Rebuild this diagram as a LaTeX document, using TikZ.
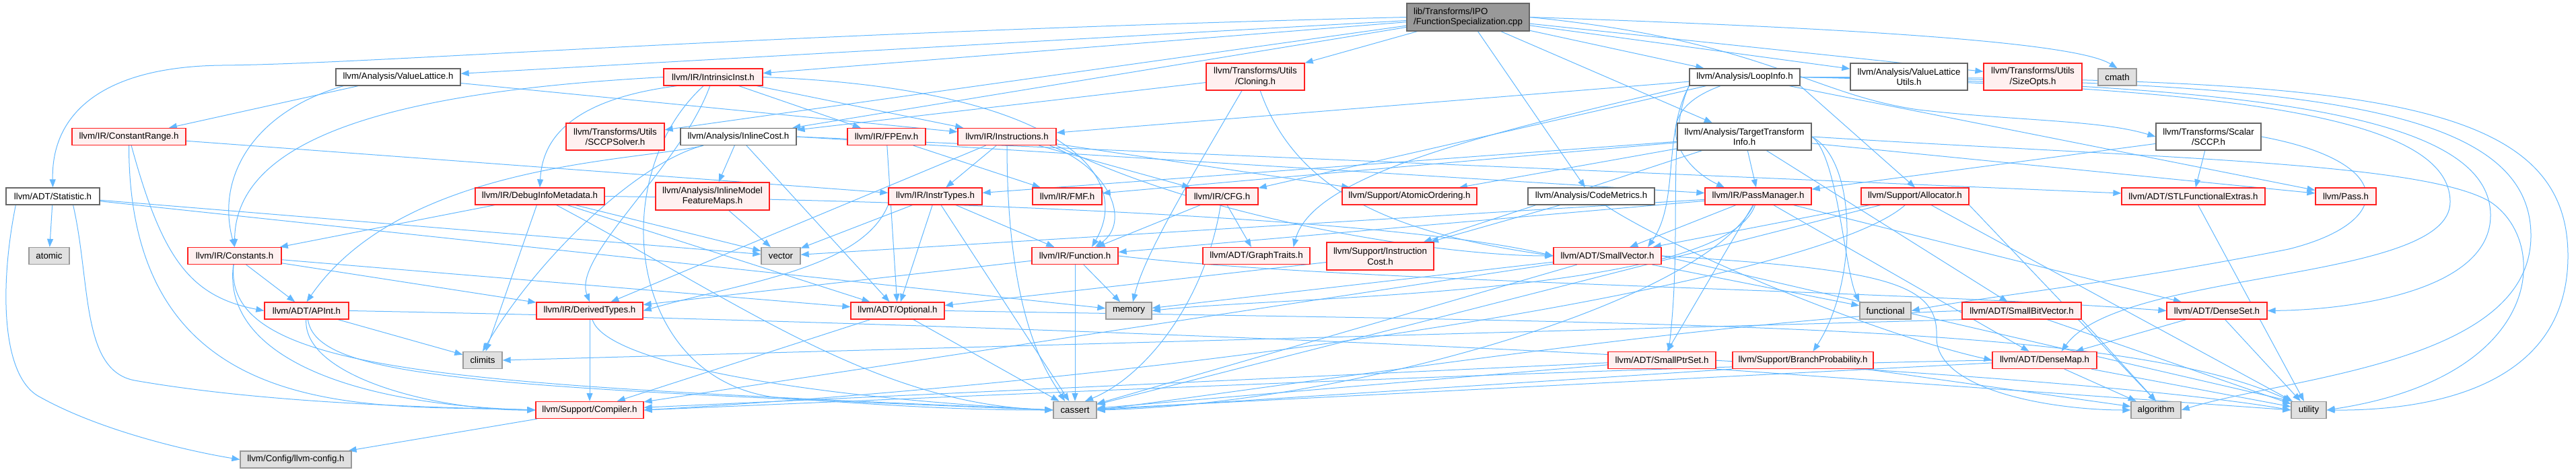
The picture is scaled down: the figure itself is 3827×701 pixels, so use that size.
\documentclass[tikz,border=0pt]{standalone}
\usepackage{fontspec}
\setmainfont{Liberation Sans}
\usetikzlibrary{arrows.meta}
\definecolor{edgec}{HTML}{63B8FF}
\definecolor{redb}{HTML}{FF2020}
\definecolor{redf}{HTML}{FFF0F0}
\definecolor{grayf}{HTML}{E0E0E0}
\definecolor{grayb}{HTML}{999999}
\definecolor{darkb}{HTML}{666666}
\definecolor{rootf}{HTML}{999999}
\pgfdeclarelayer{bg}
\pgfsetlayers{bg,main}
\begin{document}
\begin{tikzpicture}[x=1pt,y=-1pt,
  box/.style={draw, line width=1.3pt, inner sep=0pt, align=center, text=black,
    font=\fontsize{13.3}{15.5}\selectfont},
  rd/.style={box, draw=redb, fill=redf},
  gy/.style={box, draw=grayb, fill=grayf},
  wt/.style={box, draw=darkb, fill=white},
  rt/.style={box, draw=darkb, fill=rootf, align=left},
  s1/.style={minimum height=25pt},
  s2/.style={minimum height=40pt},
  e/.style={draw=edgec, line width=1pt, -{Triangle[length=12pt,width=9pt]}},
]
\useasboundingbox (0,0) rectangle (3827,701);

% row 1
\node[rt, minimum width=182pt, minimum height=41pt] (cpp) at (2181,25.5) {lib/Transforms/IPO\\/FunctionSpecialization.cpp};
% row 2
\node[wt, s1, minimum width=185pt] (VL) at (591.5,114.5) {llvm/Analysis/ValueLattice.h};
\node[rd, s1, minimum width=147pt] (II) at (1059.5,114.5) {llvm/IR/IntrinsicInst.h};
\node[rd, s2, minimum width=146pt] (CL) at (1865,114) {llvm/Transforms/Utils\\/Cloning.h};
\node[wt, s1, minimum width=164pt] (LI) at (2592,114.5) {llvm/Analysis/LoopInfo.h};
\node[wt, s2, minimum width=174pt] (VLU) at (2836,114) {llvm/Analysis/ValueLattice\\Utils.h};
\node[rd, s2, minimum width=146pt] (SO) at (3020,114) {llvm/Transforms/Utils\\/SizeOpts.h};
\node[gy, s1, minimum width=57pt] (CM) at (3145.5,114.5) {cmath};
% row 3
\node[rd, s1, minimum width=169pt] (CR) at (191.5,203) {llvm/IR/ConstantRange.h};
\node[rd, s2, minimum width=146pt] (SS) at (914,203) {llvm/Transforms/Utils\\/SCCPSolver.h};
\node[wt, s1, minimum width=172pt] (IC) at (1097,203) {llvm/Analysis/InlineCost.h};
\node[rd, s1, minimum width=116pt] (FP) at (1317,203) {llvm/IR/FPEnv.h};
\node[rd, s1, minimum width=146pt] (INS) at (1496,203) {llvm/IR/Instructions.h};
\node[wt, s2, minimum width=199pt] (TTI) at (2591.5,203) {llvm/Analysis/TargetTransform\\Info.h};
\node[wt, s2, minimum width=156pt] (SC) at (3281,203) {llvm/Transforms/Scalar\\/SCCP.h};
% row 4
\node[wt, s1, minimum width=139pt] (ST) at (78.5,291.5) {llvm/ADT/Statistic.h};
\node[rd, s1, minimum width=192pt] (DIM) at (802,291.5) {llvm/IR/DebugInfoMetadata.h};
\node[rd, minimum height=41pt, minimum width=169pt] (IMF) at (1058.5,291.5) {llvm/Analysis/InlineModel\\FeatureMaps.h};
\node[rd, s1, minimum width=139pt] (IT) at (1389.5,291.5) {llvm/IR/InstrTypes.h};
\node[rd, s1, minimum width=103pt] (FMF) at (1585.5,291.5) {llvm/IR/FMF.h};
\node[rd, s1, minimum width=107pt] (CFG) at (1815.5,291.5) {llvm/IR/CFG.h};
\node[rd, s1, minimum width=200pt] (AO) at (2094,291.5) {llvm/Support/AtomicOrdering.h};
\node[wt, s1, minimum width=188pt] (CME) at (2364,291.5) {llvm/Analysis/CodeMetrics.h};
\node[rd, s1, minimum width=158pt] (PM) at (2612,291.5) {llvm/IR/PassManager.h};
\node[rd, s1, minimum width=160pt] (AL) at (2845,291.5) {llvm/Support/Allocator.h};
\node[rd, s1, minimum width=213pt] (SFE) at (3258.5,291.5) {llvm/ADT/STLFunctionalExtras.h};
\node[rd, s1, minimum width=90pt] (PS) at (3485,291.5) {llvm/Pass.h};
% row 5
\node[gy, s1, minimum width=60pt] (AT) at (73,380) {atomic};
\node[rd, s1, minimum width=139pt] (CO) at (348.5,380) {llvm/IR/Constants.h};
\node[gy, s1, minimum width=58pt] (VEC) at (1160,380) {vector};
\node[rd, s1, minimum width=128pt] (FN) at (1597,380) {llvm/IR/Function.h};
\node[rd, s1, minimum width=159pt] (GT) at (1866.5,380) {llvm/ADT/GraphTraits.h};
\node[rd, minimum height=41pt, minimum width=159pt] (ICO) at (2050.5,380.5) {llvm/Support/Instruction\\Cost.h};
\node[rd, s1, minimum width=160pt] (SV) at (2388,380) {llvm/ADT/SmallVector.h};
% row 6
\node[rd, s1, minimum width=125pt] (AP) at (455.5,461.5) {llvm/ADT/APInt.h};
\node[rd, s1, minimum width=158pt] (DT) at (876,461.5) {llvm/IR/DerivedTypes.h};
\node[rd, s1, minimum width=139pt] (OP) at (1333.5,461.5) {llvm/ADT/Optional.h};
\node[gy, s1, minimum width=68pt] (MEM) at (1677,461.5) {memory};
\node[gy, s1, minimum width=76pt] (FUN) at (2801,461.5) {functional};
\node[rd, s1, minimum width=177pt] (SBV) at (3003.5,461.5) {llvm/ADT/SmallBitVector.h};
\node[rd, s1, minimum width=149pt] (DS) at (3293.5,461.5) {llvm/ADT/DenseSet.h};
% row 7
\node[gy, s1, minimum width=58pt] (CLI) at (717,535) {climits};
\node[rd, s1, minimum width=160pt] (SPS) at (2469,535) {llvm/ADT/SmallPtrSet.h};
\node[rd, s1, minimum width=209pt] (BP) at (2678.5,535) {llvm/Support/BranchProbability.h};
\node[rd, s1, minimum width=155pt] (DM) at (3037.5,535) {llvm/ADT/DenseMap.h};
% row 8
\node[rd, s1, minimum width=160pt] (CMP) at (876,609) {llvm/Support/Compiler.h};
\node[gy, s1, minimum width=64pt] (CA) at (1597,609) {cassert};
\node[gy, s1, minimum width=74pt] (ALG) at (3203,609) {algorithm};
\node[gy, s1, minimum width=52pt] (UT) at (3430,609) {utility};
% row 9
\node[gy, s1, minimum width=165pt] (LC) at (439.5,682.5) {llvm/Config/llvm-config.h};

\begin{pgfonlayer}{bg}
% cpp
\draw[e] (cpp.west) .. controls (1100,50) and (560,95) .. (330,97) .. controls (150,99) and (76,170) .. (ST.north);
\draw[e] (cpp) -- (VL);
\draw[e] (cpp) -- (II);
\draw[e] (cpp) -- (SS);
\draw[e] (cpp) -- (IC);
\draw[e] (cpp) -- (CL);
\draw[e] (cpp) -- (LI);
\draw[e] (cpp) -- (TTI);
\draw[e] (cpp) -- (CME);
\draw[e] (cpp) -- (VLU);
\draw[e] (cpp) -- (SO);
\draw[e] (cpp.east) .. controls (2700,40) and (3080,60) .. (CM.north);
\draw[e] (cpp.east) .. controls (2620,60) and (2690,140) .. (2850,163) .. controls (3000,180) and (3120,178) .. (SC.west);
% ValueLattice
\draw[e] (VL) -- (CR);
\draw[e] ([xshift=12pt]VL.south west) .. controls (380,165) and (320,260) .. (CO.north);
\draw[e] (VL) -- (INS);
% IntrinsicInst
\draw[e] (II.west) .. controls (600,135) and (350,200) .. (CO.north);
\draw[e] ([xshift=20pt]II.south west) .. controls (830,150) and (805,220) .. (DIM.north);
\draw[e] (II) .. controls (1010,250) and (850,380) .. (DT.north);
\draw[e] (II) -- (FP);
\draw[e] (II) -- (INS);
\draw[e] (II.east) .. controls (1550,130) and (1690,250) .. ([xshift=25pt]FN.north);
\draw[e] (II) .. controls (900,260) and (930,560) .. (1150,590) .. controls (1350,605) and (1450,609) .. (CA.west);
% Cloning
\draw[e] (CL) -- (IC);
\draw[e] (CL) .. controls (1930,300) and (2100,350) .. (SV.west);
\draw[e] ([xshift=-20pt]CL.south) .. controls (1760,280) and (1700,380) .. ([xshift=6pt]MEM.north);
% InlineCost
\draw[e] (IC) -- (IMF);
\draw[e] (IC) .. controls (950,240) and (600,240) .. (AP.north);
\draw[e] (IC) .. controls (950,240) and (800,380) .. (CLI.north);
\draw[e] (IC) -- (OP);
\draw[e] (IC.east) -- (PM);
\draw[e] (IC.east) -- (SFE);
% FPEnv
\draw[e] (FP) -- (OP);
\draw[e] (FP) -- (FMF);
% Instructions
\draw[e] (INS) -- (IT);
\draw[e] (INS) -- (CFG);
\draw[e] (INS.south) .. controls (1496,480) and (1560,560) .. ([xshift=-15pt]CA.north);
\draw[e] (INS) -- (AO);
\draw[e] (INS) -- (DT);
\draw[e] ([xshift=-10pt]INS.south east) .. controls (1650,250) and (1680,330) .. ([xshift=30pt]FN.north);
\draw[e] (INS.south east) .. controls (1800,330) and (2150,380) .. (SV.west);
% TTI
\draw[e] (TTI) -- (IT);
\draw[e] (TTI) -- (FMF);
\draw[e] (TTI) -- (AO);
\draw[e] (TTI) -- (PM);
\draw[e] (TTI) -- (ICO);
\draw[e] (TTI.east) .. controls (2760,240) and (2760,420) .. ([xshift=15pt]BP.north);
\draw[e] (TTI) -- (SBV);
\draw[e] (TTI) -- (PS);
\draw[e] (TTI.east) .. controls (2730,230) and (2740,400) .. (FUN.north west);
\draw[e] (TTI.east) .. controls (3200,235) and (3600,240) .. (3700,300) .. controls (3790,360) and (3780,560) .. (UT.east);
% SCCP
\draw[e] (SC) -- (PM);
\draw[e] (SC) -- (SFE);
\draw[e] (SC.east) .. controls (3560,240) and (3560,330) .. (3400,370) .. controls (3150,420) and (2950,440) .. (FUN.east);
% ConstantRange
\draw[e] (CR) .. controls (240,380) and (280,440) .. (AP.west);
\draw[e] (CR) -- (IT);
\draw[e] (CR.south) .. controls (191.5,640) and (560,600) .. (CMP.west);
% Statistic
\draw[e] (ST) -- (AT);
\draw[e] ([xshift=15pt]ST.south west) .. controls (0,420) and (0,560) .. (60,590) .. controls (150,640) and (280,670) .. (LC.west);
\draw[e] ([xshift=-40pt]ST.south east) .. controls (135,420) and (120,550) .. (200,565) .. controls (400,600) and (650,605) .. (CMP.west);
\draw[e] (ST) -- (MEM);
\draw[e] (ST) -- (VEC);
% DebugInfoMetadata
\draw[e] (DIM) -- (CO);
\draw[e] (DIM) -- (CLI);
\draw[e] (DIM) -- (OP);
\draw[e] (DIM.east) .. controls (1500,300) and (2100,330) .. (SV.west);
\draw[e] (DIM) -- (VEC);
\draw[e] (DIM) .. controls (1100,450) and (1300,600) .. (CA.west);
% InlineModelFeatureMaps
\draw[e] (IMF) -- (VEC);
% InstrTypes
\draw[e] (IT) -- (OP);
\draw[e] (IT.south west) .. controls (1280,400) and (1100,420) .. (DT.east);
\draw[e] (IT) -- (FN);
\draw[e] (IT) -- (VEC);
\draw[e] (IT) -- (CA);
% CFG
\draw[e] (CFG) -- (FN);
\draw[e] (CFG) -- (GT);
\draw[e] (CFG) .. controls (1790,450) and (1700,560) .. ([xshift=15pt]CA.north);
% CodeMetrics
\draw[e] (CME) -- (ICO);
\draw[e] (CME) .. controls (2500,380) and (2800,500) .. (DM.west);
% PassManager
\draw[e] (PM) -- (FN);
\draw[e] (PM) -- (SV);
\draw[e] (PM) -- (SPS);
\draw[e] (PM) -- (DM);
\draw[e] (PM) .. controls (2530,450) and (2000,600) .. (CA.east);
\draw[e] (PM) .. controls (2560,440) and (1900,440) .. (MEM.east);
\draw[e] (PM) -- (DS);
\draw[e] (PM) -- (VEC);
% Allocator
\draw[e] (AL) -- (SV);
\draw[e] (AL) .. controls (2700,420) and (1800,560) .. (CMP.east);
\draw[e] (AL.south east) -- (ALG.north);
\draw[e] (AL) -- (CA);
\draw[e] (AL) -- (UT);
% STLFunctionalExtras
\draw[e] (SFE) -- (UT);
% Function
\draw[e] (FN) -- (DT);
\draw[e] (FN) -- (MEM);
\draw[e] (FN) -- (CA);
\draw[e] (FN.east) .. controls (2000,420) and (2800,430) .. (DS.west);
% InstructionCost
\draw[e] (ICO) -- (OP);
% SmallVector
\draw[e] (SV) -- (CMP);
\draw[e] (SV.east) .. controls (2800,400) and (2880,420) .. (2877,500) .. controls (2875,580) and (3050,609) .. (ALG.west);
\draw[e] (SV) -- (CA);
\draw[e] (SV) -- (FUN);
\draw[e] (SV) -- (MEM);
\draw[e] (SV.east) -- (UT.north west);
% Constants
\draw[e] (CO) -- (AP);
\draw[e] (CO) -- (OP);
\draw[e] (CO) -- (DT);
\draw[e] (CO) .. controls (330,520) and (500,600) .. (CMP.west);
\draw[e] (CO) .. controls (330,560) and (700,570) .. (CA.west);
% APInt
\draw[e] (AP) .. controls (450,560) and (650,610) .. (CMP.west);
\draw[e] (AP) .. controls (470,560) and (700,575) .. (CA.west);
\draw[e] (AP) -- (CLI);
\draw[e] (AP.east) .. controls (1500,480) and (3000,540) .. (UT.west);
% DerivedTypes
\draw[e] (DT) -- (CMP);
\draw[e] (DT) .. controls (900,540) and (1200,590) .. (CA.west);
% Optional
\draw[e] (OP) -- (CMP);
\draw[e] (OP) -- (CA);
\draw[e] (OP.east) .. controls (2500,480) and (3150,480) .. (UT.north west);
% DenseSet
\draw[e] (DS) -- (DM);
\draw[e] (DS) -- (UT);
% DenseMap
\draw[e] (DM.west) .. controls (2400,545) and (1400,590) .. (CMP.east);
\draw[e] (DM) -- (ALG);
\draw[e] (DM) -- (CA);
\draw[e] (DM) -- (UT);
% SmallBitVector
\draw[e] (SBV.south east) -- (ALG.north);
\draw[e] (SBV.west) .. controls (2600,470) and (2000,560) .. (CA.east);
\draw[e] (SBV.south west) -- (CLI.east);
\draw[e] (SBV) -- (UT);
% SmallPtrSet
\draw[e] (SPS) -- (CMP);
\draw[e] (SPS) -- (CA);
\draw[e] (SPS.south east) -- (UT.west);
% BranchProbability
\draw[e] (BP) -- (ALG);
\draw[e] (BP.south west) -- (CA.east);
% Compiler
\draw[e] (CMP) -- (LC);
% LoopInfo
\draw[e] (LI) -- (INS);
\draw[e] (LI) -- (CFG);
\draw[e] (LI) .. controls (2440,170) and (2500,250) .. ([xshift=-50pt]PM.north);
\draw[e] (LI) -- (PS);
\draw[e] (LI.south east) -- (AL.north);
\draw[e] (LI.south west) .. controls (2475,200) and (2500,340) .. ([xshift=10pt]SPS.north);
\draw[e] (LI.south west) .. controls (2470,200) and (2495,300) .. ([xshift=60pt]SV.north);
\draw[e] (LI.east) .. controls (3300,130) and (3640,170) .. (3640,300) .. controls (3640,420) and (3150,400) .. ([xshift=25pt]DM.north);
\draw[e] (LI.east) .. controls (3350,125) and (3700,170) .. (3700,320) .. controls (3700,430) and (3500,460) .. (DS.east);
\draw[e] (LI.south west) .. controls (2200,200) and (1950,260) .. ([xshift=55pt]GT.north);
\draw[e] (LI.east) .. controls (3400,120) and (3760,150) .. (3760,350) .. controls (3760,540) and (3400,560) .. (ALG.east);
\draw[e] (LI.east) .. controls (3500,115) and (3815,140) .. (3815,380) .. controls (3815,580) and (3600,610) .. (UT.east);
\end{pgfonlayer}
\end{tikzpicture}
\end{document}
